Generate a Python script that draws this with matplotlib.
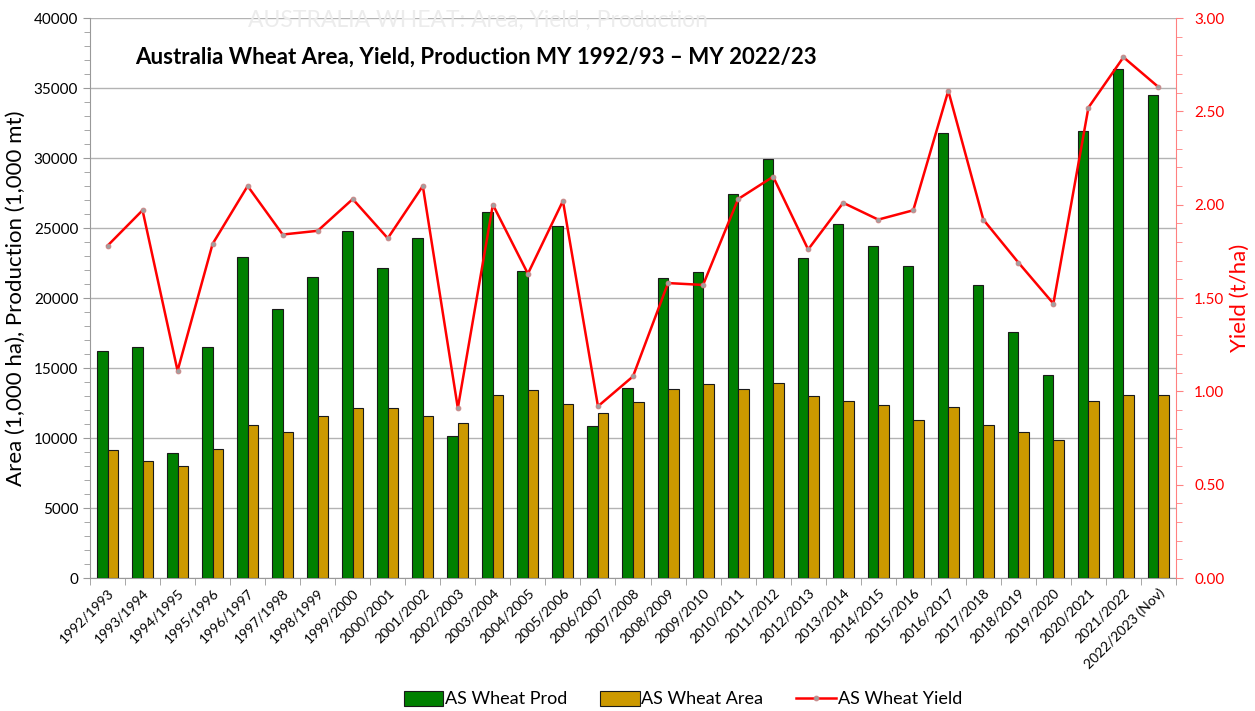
import matplotlib
matplotlib.use("Agg")
import matplotlib.pyplot as plt
import numpy as np
from matplotlib.ticker import MultipleLocator, FormatStrFormatter

plt.rcParams['font.family'] = ['Lato', 'DejaVu Sans']

years = ['1992/1993', '1993/1994', '1994/1995', '1995/1996', '1996/1997', '1997/1998',
         '1998/1999', '1999/2000', '2000/2001', '2001/2002', '2002/2003', '2003/2004',
         '2004/2005', '2005/2006', '2006/2007', '2007/2008', '2008/2009', '2009/2010',
         '2010/2011', '2011/2012', '2012/2013', '2013/2014', '2014/2015', '2015/2016',
         '2016/2017', '2017/2018', '2018/2019', '2019/2020', '2020/2021', '2021/2022',
         '2022/2023 (Nov)']
prod = [16184, 16479, 8903, 16504, 22924, 19224, 21465, 24757, 22108, 24299, 10132, 26132,
        21905, 25173, 10822, 13569, 21420, 21834, 27410, 29905, 22855, 25303, 23743, 22275,
        31819, 20941, 17598, 14480, 31923, 36345, 34500]
area = [9113, 8353, 7999, 9216, 10936, 10452, 11542, 12168, 12141, 11598, 11093, 13066,
        13399, 12443, 11798, 12578, 13530, 13881, 13502, 13902, 12979, 12613, 12385, 11282,
        12191, 10919, 10402, 9850, 12650, 13050, 13100]
yld = [1.78, 1.97, 1.11, 1.79, 2.10, 1.84, 1.86, 2.03, 1.82, 2.10, 0.91, 2.00,
       1.63, 2.02, 0.92, 1.08, 1.58, 1.57, 2.03, 2.15, 1.76, 2.01, 1.92, 1.97,
       2.61, 1.92, 1.69, 1.47, 2.52, 2.79, 2.63]

x = np.arange(len(years))
w = 0.3

fig = plt.figure(figsize=(12.55, 7.11), dpi=100)
ax = fig.add_axes([90/1255, 1 - 578/711, (1176-90)/1255, (578-18)/711])

ax.bar(x - w/2, prod, w, color='#008000', edgecolor='#1a1a1a', linewidth=0.8,
       label='AS Wheat Prod', zorder=3)
ax.bar(x + w/2, area, w, color='#CC9900', edgecolor='#1a1a1a', linewidth=0.8,
       label='AS Wheat Area', zorder=3)

ax.set_xlim(-0.5, len(years) - 0.5)
ax.set_ylim(0, 40000)
ax.yaxis.set_major_locator(MultipleLocator(5000))
ax.yaxis.set_minor_locator(MultipleLocator(1000))
ax.grid(axis='y', which='major', color='#b3b3b3', linewidth=1, zorder=0)
ax.set_axisbelow(True)

ax.set_xticks(x)
ax.set_xticklabels(years, rotation=45, ha='right', rotation_mode='anchor', fontsize=10)
ax.set_xticks(np.arange(-0.5, len(years)), minor=True)
ax.tick_params(axis='x', which='major', length=0, pad=6)
ax.tick_params(axis='x', which='minor', length=5, color='#999999')
ax.tick_params(axis='y', which='major', length=5, color='#999999', labelsize=11)
ax.tick_params(axis='y', which='minor', length=4, color='#999999')

for s in ['left', 'bottom']:
    ax.spines[s].set_color('#999999')
ax.spines['top'].set_visible(False)
ax.spines['right'].set_visible(False)
ax.set_ylabel('Area (1,000 ha), Production (1,000 mt)', fontsize=16, labelpad=6)

ax2 = ax.twinx()
ax2.plot(x, yld, color='#FF0000', linewidth=1.8, marker='o', markersize=3.5,
         markerfacecolor='#a0a0a0', markeredgecolor='#d08080', markeredgewidth=0.6,
         label='AS Wheat Yield', zorder=4)
ax2.set_ylim(0, 3.0)
ax2.yaxis.set_major_locator(MultipleLocator(0.5))
ax2.yaxis.set_minor_locator(MultipleLocator(0.1))
ax2.yaxis.set_major_formatter(FormatStrFormatter('%.2f'))
ax2.tick_params(axis='y', which='major', length=5, color='#ff8080', labelcolor='#FF0000',
                labelsize=11, pad=8)
ax2.tick_params(axis='y', which='minor', length=4, color='#ff8080')
ax2.spines['right'].set_color('#ff8080')
for s in ['left', 'top', 'bottom']:
    ax2.spines[s].set_visible(False)
ax2.set_ylabel('Yield (t/ha)', fontsize=16, color='#FF0000', labelpad=4)

fig.text(248/1255, 1 - 20/711, 'AUSTRALIA WHEAT: Area, Yield , Production', fontsize=16.5,
         color='#ececec', va='center', ha='left')
fig.text(135/1255, 1 - 57/711, 'Australia Wheat Area, Yield, Production MY 1992/93 \u2013 MY 2022/23',
         fontsize=16, fontweight='bold', va='center', ha='left')

h1, l1 = ax.get_legend_handles_labels()
h2, l2 = ax2.get_legend_handles_labels()
fig.legend(h1 + h2, l1 + l2, loc='center', bbox_to_anchor=(0.544, 1 - 699/711), ncol=3,
           frameon=False, fontsize=13, columnspacing=1.8, handlelength=2.2,
           handletextpad=0.1, handleheight=0.9)

fig.savefig('out.png', dpi=100)
